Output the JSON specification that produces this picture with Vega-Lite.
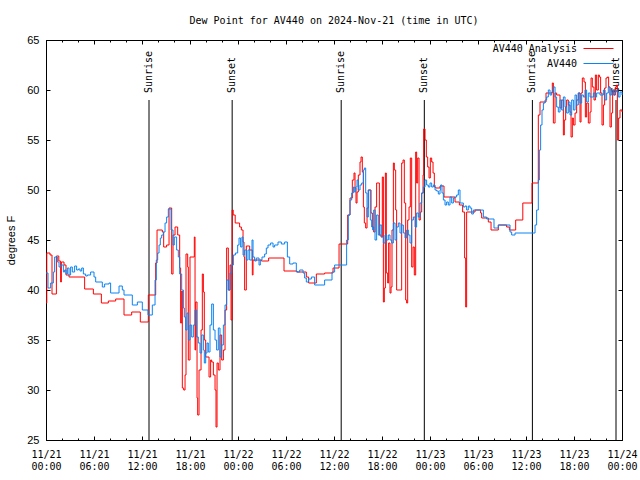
{
"$schema": "https://vega.github.io/schema/vega-lite/v6.json",
"autosize": "none",
"width": 576,
"height": 400,
"padding": {"left": 46, "top": 40, "right": 18, "bottom": 40},
"background": "white",
"title": {"text": "Dew Point for AV440 on 2024-Nov-21 (time in UTC)", "font": "DejaVu Sans Mono", "fontSize": 10, "fontWeight": "normal", "color": "black", "anchor": "middle", "offset": 8},
"config": {
  "view": {"stroke": "black", "strokeWidth": 1},
  "axis": {"grid": false, "domain": false, "ticks": true, "tickColor": "black", "tickWidth": 1, "labelColor": "black", "titleColor": "black"}
},
"datasets": {
"analysis": [
{"h":0,"v":38.7},{"h":0.1,"v":43.7},{"h":0.5,"v":43.5},{"h":0.75,"v":39.6},{"h":1.3,"v":43.4},{"h":1.6,"v":42.9},{"h":1.83,"v":40.8},{"h":1.92,"v":42.8},{"h":2.25,"v":42.5},{"h":2.5,"v":41.5},{"h":2.88,"v":41.3},{"h":4.83,"v":40.1},{"h":5.92,"v":39.6},{"h":6.92,"v":38.7},{"h":7.79,"v":38.9},{"h":8.71,"v":39.1},{"h":9.75,"v":37.5},{"h":10.71,"v":37.8},{"h":11.79,"v":36.8},{"h":12.79,"v":39.5},{"h":13.71,"v":42.7},{"h":13.88,"v":46.0},{"h":14.54,"v":45.8},{"h":14.71,"v":44.3},{"h":15.08,"v":44.5},{"h":15.38,"v":48.2},{"h":15.71,"v":41.6},{"h":15.88,"v":45.5},{"h":16.13,"v":46.3},{"h":16.46,"v":45.5},{"h":16.71,"v":42.2},{"h":16.83,"v":36.7},{"h":16.96,"v":39.9},{"h":17.04,"v":30.2},{"h":17.21,"v":30.0},{"h":17.38,"v":31.5},{"h":17.5,"v":43.6},{"h":17.71,"v":42.3},{"h":17.79,"v":33.0},{"h":18.0,"v":43.3},{"h":18.54,"v":45.3},{"h":18.63,"v":34},{"h":18.71,"v":38.8},{"h":18.88,"v":29.2},{"h":18.96,"v":27.5},{"h":19.13,"v":32},{"h":19.38,"v":36},{"h":19.54,"v":41.6},{"h":19.67,"v":39.8},{"h":19.79,"v":35},{"h":19.96,"v":33.3},{"h":20.38,"v":31.3},{"h":20.58,"v":33},{"h":20.71,"v":32.8},{"h":20.92,"v":31.5},{"h":21.13,"v":30},{"h":21.25,"v":26.3},{"h":21.38,"v":32.7},{"h":21.54,"v":32},{"h":21.75,"v":35.5},{"h":21.96,"v":33},{"h":22.17,"v":34},{"h":22.38,"v":38},{"h":22.58,"v":44.2},{"h":22.79,"v":40},{"h":23.0,"v":42.5},{"h":23.13,"v":37},{"h":23.27,"v":48},{"h":23.4,"v":47.5},{"h":23.65,"v":46.7},{"h":24.2,"v":46.3},{"h":24.42,"v":46},{"h":24.63,"v":44.8},{"h":24.75,"v":43.3},{"h":24.83,"v":40},{"h":25.04,"v":44.4},{"h":25.46,"v":44.0},{"h":25.79,"v":41.5},{"h":25.88,"v":43},{"h":26.92,"v":42.9},{"h":27.83,"v":43.2},{"h":29.75,"v":41.9},{"h":31.38,"v":41.8},{"h":32.54,"v":41.3},{"h":32.83,"v":40.7},{"h":33.79,"v":41.6},{"h":34.83,"v":41.7},{"h":35.88,"v":42.2},{"h":36.63,"v":44.6},{"h":37.71,"v":47.5},{"h":38.0,"v":49.2},{"h":38.29,"v":51},{"h":38.5,"v":51.7},{"h":38.63,"v":50.2},{"h":38.75,"v":48.7},{"h":38.88,"v":49.8},{"h":39.04,"v":51.5},{"h":39.25,"v":52.8},{"h":39.38,"v":53.3},{"h":39.54,"v":51.8},{"h":39.67,"v":48.3},{"h":39.79,"v":46.7},{"h":39.96,"v":46.2},{"h":40.13,"v":48.2},{"h":40.29,"v":50},{"h":40.63,"v":47.7},{"h":40.79,"v":46.3},{"h":40.96,"v":45.8},{"h":41.13,"v":48.3},{"h":41.33,"v":50.7},{"h":41.67,"v":45.5},{"h":41.88,"v":45.3},{"h":42.04,"v":51.3},{"h":42.17,"v":38.8},{"h":42.29,"v":40.2},{"h":42.42,"v":51.7},{"h":42.54,"v":41.7},{"h":42.71,"v":40.7},{"h":42.83,"v":44.7},{"h":43.0,"v":39.7},{"h":43.13,"v":40.3},{"h":43.25,"v":46},{"h":43.42,"v":52.7},{"h":43.54,"v":52},{"h":43.71,"v":48},{"h":43.83,"v":40},{"h":44.46,"v":52.7},{"h":44.63,"v":53},{"h":44.79,"v":48.7},{"h":44.96,"v":39},{"h":45.08,"v":38.7},{"h":45.21,"v":47},{"h":45.38,"v":48.3},{"h":45.54,"v":53.2},{"h":45.71,"v":42.3},{"h":45.88,"v":44.3},{"h":46.04,"v":41.5},{"h":46.21,"v":53.8},{"h":46.33,"v":50.7},{"h":46.46,"v":53.2},{"h":46.63,"v":47},{"h":46.79,"v":47.8},{"h":46.96,"v":49.7},{"h":47.13,"v":51.5},{"h":47.21,"v":56.1},{"h":47.38,"v":55},{"h":47.54,"v":53.3},{"h":47.71,"v":52.3},{"h":47.88,"v":51.2},{"h":48.04,"v":53.2},{"h":48.21,"v":52.8},{"h":48.38,"v":51.7},{"h":48.54,"v":50.3},{"h":48.71,"v":50.2},{"h":49.25,"v":50.4},{"h":49.75,"v":49.3},{"h":51.13,"v":48.8},{"h":51.67,"v":48.5},{"h":52.08,"v":47.8},{"h":52.33,"v":43.2},{"h":52.46,"v":38.3},{"h":52.58,"v":47.8},{"h":53.63,"v":48},{"h":54.33,"v":47.7},{"h":54.46,"v":47.2},{"h":55.29,"v":46.8},{"h":55.63,"v":46},{"h":56.54,"v":46.5},{"h":57.58,"v":46.3},{"h":57.92,"v":46},{"h":58.71,"v":47},{"h":59.6,"v":48.7},{"h":60.75,"v":50.7},{"h":61.54,"v":57.5},{"h":61.75,"v":58.8},{"h":62.5,"v":59.7},{"h":63.29,"v":60.7},{"h":63.42,"v":56.7},{"h":63.63,"v":59.7},{"h":63.83,"v":59.5},{"h":64.25,"v":58.2},{"h":64.46,"v":59},{"h":64.67,"v":55.5},{"h":64.79,"v":57},{"h":64.96,"v":58.3},{"h":65.08,"v":59},{"h":65.29,"v":58.5},{"h":65.5,"v":57.8},{"h":65.63,"v":55.3},{"h":65.79,"v":57.2},{"h":65.92,"v":56.5},{"h":66.13,"v":57.7},{"h":66.33,"v":59},{"h":66.54,"v":59.7},{"h":66.75,"v":56.8},{"h":66.88,"v":59.7},{"h":67.04,"v":61.2},{"h":67.25,"v":60.8},{"h":67.42,"v":57.3},{"h":67.58,"v":58.7},{"h":67.79,"v":56.7},{"h":68.0,"v":57.8},{"h":68.13,"v":61.2},{"h":68.29,"v":60.3},{"h":68.5,"v":59},{"h":68.67,"v":61.5},{"h":68.83,"v":60},{"h":69.04,"v":61.5},{"h":69.17,"v":61.3},{"h":69.33,"v":59.7},{"h":69.5,"v":56.5},{"h":69.67,"v":58.5},{"h":69.83,"v":60.2},{"h":70.0,"v":61.2},{"h":70.17,"v":61.3},{"h":70.33,"v":60.3},{"h":70.5,"v":56.3},{"h":70.67,"v":57.7},{"h":70.83,"v":60},{"h":71.0,"v":59.5},{"h":71.17,"v":60.3},{"h":71.33,"v":60.5},{"h":71.42,"v":55},{"h":71.58,"v":57.2},{"h":71.75,"v":58},{"h":72,"v":57.8}
],
"obs": [
{"h":0,"v":41.7},{"h":0.25,"v":40.2},{"h":0.58,"v":40.7},{"h":0.92,"v":41.8},{"h":1.08,"v":43.3},{"h":1.42,"v":42.8},{"h":1.63,"v":42.3},{"h":1.83,"v":42.5},{"h":2.17,"v":41.8},{"h":2.33,"v":42},{"h":2.5,"v":41.6},{"h":2.67,"v":42.2},{"h":2.88,"v":41.5},{"h":3.08,"v":42.3},{"h":3.29,"v":41.8},{"h":3.58,"v":42.4},{"h":3.83,"v":42},{"h":4.04,"v":42.1},{"h":4.25,"v":41.9},{"h":4.46,"v":42.2},{"h":4.67,"v":41.6},{"h":4.96,"v":41.4},{"h":5.17,"v":41.5},{"h":5.58,"v":41.8},{"h":6.0,"v":41.3},{"h":6.21,"v":40.8},{"h":7.04,"v":40.3},{"h":7.33,"v":40.6},{"h":7.88,"v":40.7},{"h":8.08,"v":39.7},{"h":9.13,"v":40.4},{"h":9.54,"v":40},{"h":9.75,"v":39.5},{"h":10.79,"v":38.5},{"h":11.42,"v":38.8},{"h":12.04,"v":38},{"h":12.75,"v":37.5},{"h":13.29,"v":38.5},{"h":13.63,"v":41},{"h":13.79,"v":43},{"h":13.96,"v":43.7},{"h":14.13,"v":44.5},{"h":14.29,"v":45.2},{"h":14.46,"v":45.5},{"h":14.67,"v":45.8},{"h":14.88,"v":46.7},{"h":15.08,"v":47.3},{"h":15.29,"v":48.1},{"h":15.63,"v":46},{"h":15.88,"v":44.5},{"h":16.04,"v":45.3},{"h":16.33,"v":44},{"h":16.54,"v":43.3},{"h":16.71,"v":41.6},{"h":16.96,"v":40},{"h":17.17,"v":38.2},{"h":17.29,"v":37.3},{"h":17.46,"v":36},{"h":17.63,"v":37.7},{"h":17.79,"v":35},{"h":18.0,"v":36.5},{"h":18.21,"v":35.3},{"h":18.42,"v":36.5},{"h":18.63,"v":38},{"h":18.83,"v":35.3},{"h":19.04,"v":34.7},{"h":19.25,"v":33.7},{"h":19.46,"v":35.5},{"h":19.67,"v":34},{"h":19.79,"v":32.7},{"h":19.96,"v":33.7},{"h":20.13,"v":34.7},{"h":20.29,"v":33.8},{"h":20.5,"v":36.5},{"h":20.71,"v":38.6},{"h":20.92,"v":36},{"h":21.13,"v":35},{"h":21.33,"v":34},{"h":21.54,"v":36.2},{"h":21.75,"v":33.3},{"h":21.96,"v":34.5},{"h":22.17,"v":36.5},{"h":22.38,"v":38.5},{"h":22.58,"v":41},{"h":22.79,"v":40},{"h":23.0,"v":41.7},{"h":23.21,"v":42.5},{"h":23.42,"v":43.5},{"h":23.67,"v":43.7},{"h":23.96,"v":44.5},{"h":24.13,"v":45.2},{"h":24.33,"v":44.3},{"h":24.5,"v":45.3},{"h":24.63,"v":43.5},{"h":24.83,"v":44},{"h":25.04,"v":43},{"h":25.25,"v":44},{"h":25.46,"v":43},{"h":25.75,"v":45},{"h":25.88,"v":43.3},{"h":26.08,"v":42.9},{"h":26.29,"v":43.2},{"h":26.63,"v":42.5},{"h":26.79,"v":43},{"h":27.0,"v":43.3},{"h":27.33,"v":43.6},{"h":27.54,"v":44.2},{"h":27.75,"v":44.5},{"h":28.08,"v":44.7},{"h":28.38,"v":44.3},{"h":28.58,"v":44.5},{"h":29.0,"v":44.8},{"h":29.42,"v":44.6},{"h":29.83,"v":44.8},{"h":30.17,"v":43.3},{"h":30.46,"v":42.6},{"h":30.88,"v":42.7},{"h":31.29,"v":41.8},{"h":31.71,"v":42},{"h":32.13,"v":41.7},{"h":32.33,"v":41.2},{"h":32.54,"v":40.8},{"h":32.83,"v":41.1},{"h":33.17,"v":41.3},{"h":33.58,"v":40.5},{"h":34.83,"v":41},{"h":35.75,"v":41.8},{"h":36.08,"v":42.5},{"h":37.58,"v":45},{"h":37.79,"v":47.5},{"h":38.0,"v":49},{"h":38.21,"v":49.7},{"h":38.42,"v":50.3},{"h":38.54,"v":49.8},{"h":38.71,"v":50.3},{"h":38.88,"v":51},{"h":39.04,"v":50},{"h":39.25,"v":50.5},{"h":39.46,"v":50.7},{"h":39.67,"v":52},{"h":39.79,"v":52.2},{"h":39.96,"v":49.7},{"h":40.13,"v":47.3},{"h":40.29,"v":50},{"h":40.54,"v":47},{"h":40.71,"v":46.3},{"h":40.83,"v":46},{"h":40.96,"v":48},{"h":41.13,"v":45},{"h":41.33,"v":47.5},{"h":41.54,"v":45.5},{"h":41.75,"v":46.5},{"h":41.96,"v":45.3},{"h":42.17,"v":44.7},{"h":42.38,"v":45.5},{"h":42.58,"v":45},{"h":42.79,"v":45.5},{"h":43.0,"v":45},{"h":43.21,"v":44.7},{"h":43.42,"v":46.7},{"h":43.63,"v":45},{"h":43.83,"v":46.3},{"h":44.04,"v":46.7},{"h":44.25,"v":45.7},{"h":44.46,"v":46.5},{"h":44.67,"v":45.7},{"h":44.88,"v":45.2},{"h":45.08,"v":46},{"h":45.29,"v":45.5},{"h":45.5,"v":44.7},{"h":45.71,"v":47},{"h":45.92,"v":47.3},{"h":46.13,"v":46.3},{"h":46.33,"v":47.7},{"h":46.54,"v":47.3},{"h":46.75,"v":48.7},{"h":46.96,"v":49.7},{"h":47.17,"v":50.3},{"h":47.38,"v":51},{"h":47.58,"v":50.5},{"h":47.79,"v":50.3},{"h":48.0,"v":50.7},{"h":48.21,"v":50.3},{"h":48.42,"v":50.5},{"h":48.63,"v":50},{"h":48.83,"v":49.9},{"h":49.04,"v":49.6},{"h":49.25,"v":50},{"h":49.33,"v":50.5},{"h":49.5,"v":49.7},{"h":49.67,"v":49},{"h":49.88,"v":48.5},{"h":50.08,"v":48.8},{"h":50.29,"v":48.5},{"h":50.5,"v":49.3},{"h":50.71,"v":48.7},{"h":50.92,"v":49.2},{"h":51.13,"v":49.3},{"h":51.33,"v":49.5},{"h":51.54,"v":50},{"h":51.75,"v":48.7},{"h":52.17,"v":48.3},{"h":52.38,"v":48.4},{"h":52.58,"v":48},{"h":52.79,"v":48.4},{"h":53.0,"v":48.2},{"h":53.21,"v":47.6},{"h":53.42,"v":48},{"h":54.46,"v":48},{"h":54.67,"v":47.3},{"h":55.08,"v":47.1},{"h":56.0,"v":46.2},{"h":56.54,"v":46.5},{"h":58.0,"v":45.8},{"h":58.21,"v":45.5},{"h":58.63,"v":45.7},{"h":61.13,"v":46.5},{"h":61.33,"v":48},{"h":61.54,"v":51},{"h":61.67,"v":54},{"h":61.83,"v":56.5},{"h":62.0,"v":58},{"h":62.17,"v":58.7},{"h":62.38,"v":59},{"h":62.58,"v":59.3},{"h":62.79,"v":60},{"h":63.0,"v":59.5},{"h":63.21,"v":59.8},{"h":63.42,"v":60.3},{"h":63.63,"v":59.3},{"h":63.83,"v":58.3},{"h":64.04,"v":57.8},{"h":64.25,"v":59},{"h":64.46,"v":58},{"h":64.67,"v":59.3},{"h":64.88,"v":58.3},{"h":65.08,"v":57.7},{"h":65.29,"v":58.8},{"h":65.5,"v":57.5},{"h":65.71,"v":59},{"h":65.92,"v":58},{"h":66.13,"v":59.5},{"h":66.33,"v":58.5},{"h":66.54,"v":59.7},{"h":66.75,"v":58.7},{"h":66.96,"v":59.5},{"h":67.17,"v":59.3},{"h":67.38,"v":60},{"h":67.58,"v":58.8},{"h":67.79,"v":59.7},{"h":68.0,"v":59.3},{"h":68.42,"v":59.7},{"h":68.63,"v":59.3},{"h":68.83,"v":59.7},{"h":69.25,"v":59.5},{"h":69.67,"v":60},{"h":69.88,"v":59},{"h":70.08,"v":59.7},{"h":70.29,"v":60.3},{"h":70.5,"v":59.5},{"h":70.71,"v":60},{"h":70.92,"v":59.5},{"h":71.13,"v":60},{"h":71.33,"v":59.8},{"h":71.54,"v":59.3},{"h":71.75,"v":59.8},{"h":72,"v":59.5}
],
"sun": [
{"h":12.875,"label":"Sunrise"},{"h":23.27,"label":"Sunset"},{"h":36.9,"label":"Sunrise"},{"h":47.29,"label":"Sunset"},{"h":60.8,"label":"Sunrise"},{"h":71.25,"label":"Sunset"}
]
},
"layer": [
{
  "data": {"name": "sun"},
  "mark": {"type": "rule", "color": "black", "strokeWidth": 1},
  "encoding": {
    "x": {"field": "h", "type": "quantitative", "scale": {"domain": [0, 72], "nice": false, "zero": false},
      "axis": {"orient": "bottom", "offset": -2, "values": [0,2,4,6,8,10,12,14,16,18,20,22,24,26,28,30,32,34,36,38,40,42,44,46,48,50,52,54,56,58,60,62,64,66,68,70,72], "labels": false, "tickSize": 2, "title": null}},
    "y": {"datum": 25, "type": "quantitative", "scale": {"domain": [25, 65], "nice": false, "zero": false}, "axis": null},
    "y2": {"datum": 59}
  }
},
{
  "data": {"name": "sun"},
  "mark": {"type": "text", "angle": 270, "align": "left", "baseline": "middle", "font": "DejaVu Sans Mono", "fontSize": 10, "color": "black"},
  "encoding": {
    "x": {"field": "h", "type": "quantitative",
      "axis": {"orient": "top", "offset": -2, "values": [0,2,4,6,8,10,12,14,16,18,20,22,24,26,28,30,32,34,36,38,40,42,44,46,48,50,52,54,56,58,60,62,64,66,68,70,72], "labels": false, "tickSize": 2, "title": null}},
    "y": {"datum": 59.7, "type": "quantitative", "axis": null},
    "text": {"field": "label"}
  }
},
{
  "data": {"name": "analysis"},
  "mark": {"type": "line", "interpolate": "step-after", "strokeWidth": 1},
  "encoding": {
    "x": {"field": "h", "type": "quantitative",
      "axis": {"orient": "bottom", "offset": -4, "values": [0,6,12,18,24,30,36,42,48,54,60,66,72], "tickSize": 4, "labelPadding": 9, "labelFont": "DejaVu Sans Mono", "labelFontSize": 10, "labelBaseline": "top", "labelLineHeight": 12, "labelFlush": false, "labelOverlap": false, "labelBound": false,
        "labelExpr": "['11/' + (21 + floor(datum.value / 24)), (datum.value % 24 < 10 ? '0' : '') + (datum.value % 24) + ':00']", "title": null}},
    "y": {"field": "v", "type": "quantitative",
      "axis": {"orient": "left", "offset": -4, "values": [25,30,35,40,45,50,55,60,65], "tickSize": 4, "labelPadding": 7, "labelFont": "Liberation Sans", "labelFontSize": 11, "title": "degrees F", "titleFont": "Liberation Sans", "titleFontSize": 11, "titleFontWeight": "normal", "titlePadding": 10}},
    "color": {"datum": "AV440 Analysis", "type": "nominal",
      "scale": {"domain": ["AV440 Analysis", "AV440"], "range": ["#ff0000", "#0a84f5"]},
      "legend": {"orient": "none", "legendX": 547, "legendY": 3, "title": null, "padding": 0, "symbolType": "M-3,0H3", "symbolSize": 100, "symbolStrokeWidth": 1, "labelAlign": "right", "labelOffset": -27, "labelFont": "DejaVu Sans Mono", "labelFontSize": 10, "labelColor": "black", "rowPadding": 4}}
  }
},
{
  "data": {"name": "obs"},
  "mark": {"type": "line", "interpolate": "step-after", "strokeWidth": 1},
  "encoding": {
    "x": {"field": "h", "type": "quantitative",
      "axis": {"orient": "top", "offset": -4, "values": [0,6,12,18,24,30,36,42,48,54,60,66,72], "tickSize": 4, "labels": false, "title": null}},
    "y": {"field": "v", "type": "quantitative",
      "axis": {"orient": "right", "offset": -4, "values": [25,30,35,40,45,50,55,60,65], "tickSize": 4, "labels": false, "title": null}},
    "color": {"datum": "AV440", "type": "nominal"}
  }
}
],
"resolve": {"axis": {"x": "independent", "y": "independent"}}
}
